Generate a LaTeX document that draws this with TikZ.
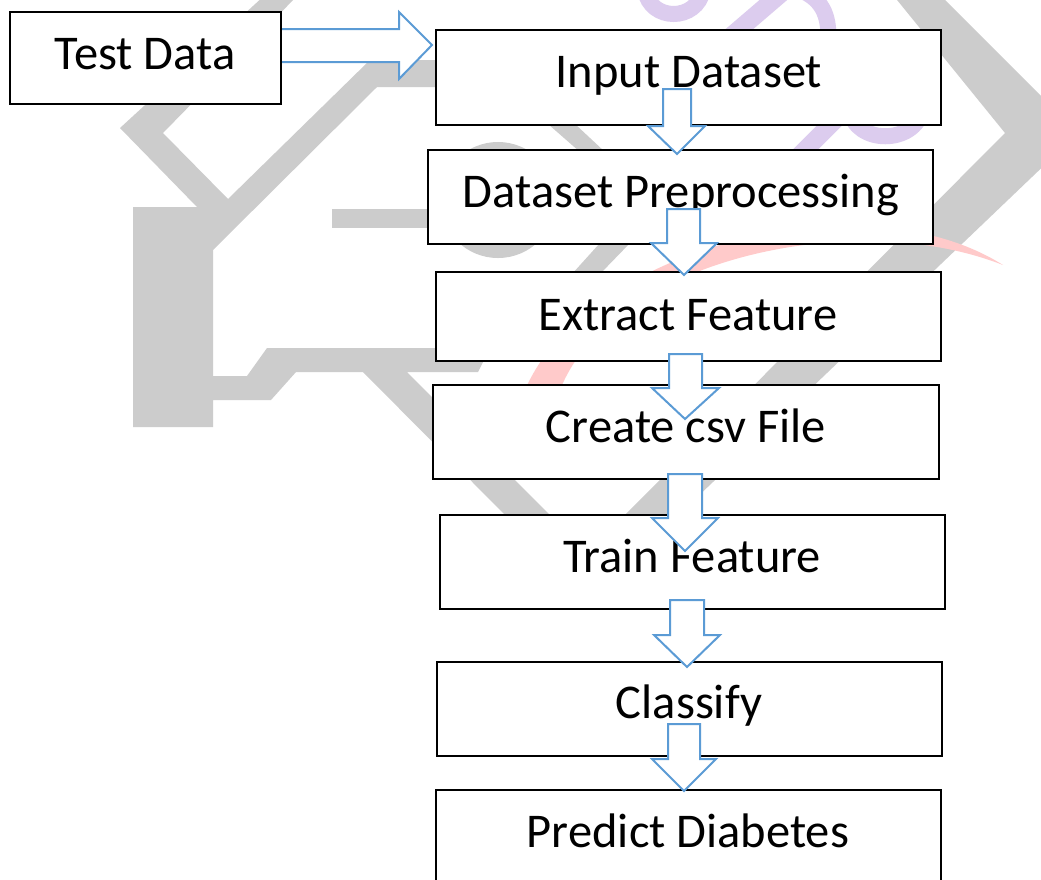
\documentclass[tikz,border=0pt]{standalone}
\usepackage{fontspec}
\setmainfont{Carlito}
\definecolor{wmgray}{HTML}{CCCCCC}
\definecolor{wmpurple}{HTML}{DCCCEE}
\definecolor{wmred}{HTML}{FFCACA}
\definecolor{arrowblue}{HTML}{5B9BD5}
\newcommand\blockdown[8]{%
  \draw[blockarrow] (#1,#3) -- (#2,#3) -- (#2,#4) -- (#6,#4) -- (#7,#8) -- (#5,#4) -- (#1,#4) -- cycle;}
\begin{document}
\begin{tikzpicture}[x=1pt,y=-1pt,
  stepbox/.style={draw=black, line width=2.8pt, fill=white, rectangle, inner sep=0pt, minimum width=505pt, minimum height=94pt},
  lbl/.style={font=\fontsize{48.5}{52}\selectfont, anchor=base, inner sep=0pt},
  blockarrow/.style={draw=arrowblue, line width=2pt, fill=white, line join=miter},
]
\useasboundingbox (0,0) rectangle (1041,879);
\fill[white] (0,0) rectangle (1041,879);
% ---- watermark ----
\fill[wmgray] (265,-5) -- (298,-5) -- (163,133) -- (228,199) -- (370,60) -- (445,60) -- (445,87) -- (377,87)
  -- (213,250) -- (213,376) -- (247,376) -- (267,348) -- (490,348) -- (478,372) -- (407,372) -- (555,520)
  -- (510,520) -- (363,372) -- (296,372) -- (271,400) -- (213,400) -- (213,427) -- (133,427) -- (133,207)
  -- (197,207) -- (120,128) -- cycle;
\fill[wmgray] (332,209) rectangle (440,228);
\fill[wmgray] (893,-5) -- (940,-5) -- (1078,133) -- (668,525) -- (615,525) -- (1005,133) -- cycle;
\fill[wmgray] (548,124) -- (575,124) -- (605,152) -- (580,152) -- cycle;
\draw[wmgray, line width=14pt] (498,200) circle (51);
\fill[wmgray] (600,243) -- (630,243) -- (600,274) -- (572,274) -- cycle;
\fill[wmred] (525,390) .. controls (585,250) and (860,175) .. (1003,265)
  .. controls (850,205) and (610,262) .. (560,390) -- cycle;
\draw[wmpurple, line width=16pt] (645,-10) .. controls (650,22) and (697,22) .. (703,-10);
\draw[wmpurple, line width=18pt] (785,-10) -- (715,50);
\draw[wmpurple, line width=16pt] (800,-10) .. controls (825,0) and (830,20) .. (828,45);
\draw[wmpurple, line width=18pt] (795,160) -- (845,110);
\draw[wmpurple, line width=16pt] (850,110) .. controls (855,145) and (915,145) .. (922,110);
% ---- horizontal arrow ----
\draw[blockarrow] (270,29) -- (399,29) -- (399,12) -- (432,45) -- (399,79) -- (399,62) -- (270,62) -- cycle;
% ---- boxes ----
\node[stepbox, minimum width=271pt, minimum height=92pt] (test) at (145.5,58) {};
\node[stepbox, minimum height=95pt] (input) at (688.5,77.5) {};
\node[stepbox] (prep) at (680.5,197) {};
\node[stepbox, minimum height=89pt] (extract) at (688.5,316.5) {};
\node[stepbox, minimum width=506pt] (csv) at (686,432) {};
\node[stepbox] (train) at (692.5,562) {};
\node[stepbox] (classify) at (689.5,709) {};
\node[stepbox] (predict) at (688.5,837) {};
% ---- labels ----
\node[lbl] (ttest) at (145,69) {Test Data};
\node[lbl] (tinput) at (689,87) {Input Dataset};
\node[lbl] (tprep) at (681,207) {Dataset Preprocessing};
\node[lbl] (textract) at (688,330) {Extract Feature};
\node[lbl] (tcsv) at (686,442) {Create csv File};
\node[lbl] (ttrain) at (692,572) {Train Feature};
\node[lbl] (tclassify) at (689,718) {Classify};
\node[lbl] (tpredict) at (688,847) {Predict Diabetes};
% ---- down arrows ----
\blockdown{663}{691}{89}{126}{648}{705}{677}{154}
\blockdown{667}{700}{209}{243}{651}{717}{684}{275}
\blockdown{669}{702}{354}{388}{652}{719}{685}{419}
\blockdown{668}{702}{474}{518}{652}{718}{685}{551}
\blockdown{670}{704}{600}{635}{654}{720}{687}{667}
\blockdown{668}{700}{724}{759}{652}{716}{684}{791}
\end{tikzpicture}
\end{document}
